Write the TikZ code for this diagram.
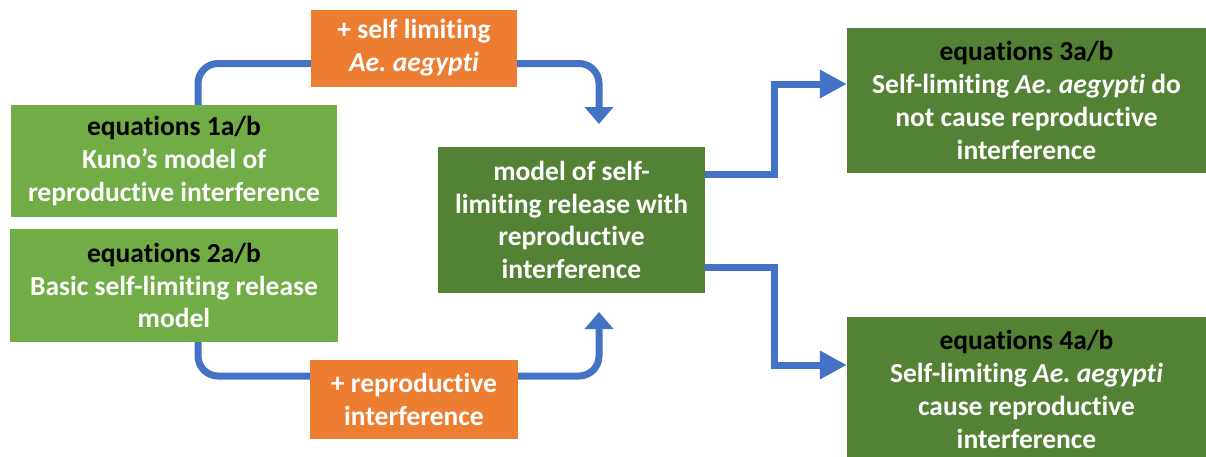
\documentclass[tikz,border=0pt]{standalone}
\usepackage{fontspec}
\setmainfont[Ligatures=NoCommon]{Carlito}
\usetikzlibrary{arrows.meta}
\definecolor{accOrange}{HTML}{ED7D31}
\definecolor{leafGreen}{HTML}{70AD47}
\definecolor{deepGreen}{HTML}{548235}
\definecolor{flowBlue}{HTML}{4472C4}
\frenchspacing
\begin{document}
\begin{tikzpicture}[x=1pt,y=-1pt,
  box/.style={rectangle, inner sep=0pt, align=center, text=white,
    font=\fontsize{27.5}{32.8}\selectfont\bfseries},
  stepbox/.style={box, fill=accOrange},
  srcbox/.style={box, fill=leafGreen},
  resbox/.style={box, fill=deepGreen},
  flow/.style={draw=flowBlue, line width=7pt, rounded corners=20pt,
    -{Triangle[width=28pt,length=17pt]}},
  flowsharp/.style={draw=flowBlue, line width=7pt,
    -{Triangle[width=27pt,length=27pt]}},
  link/.style={draw=flowBlue, line width=7pt, rounded corners=20pt}]
\clip (0,0) rectangle (1206,456);
\useasboundingbox (0,0) rectangle (1206,456);

% source models
\node[srcbox, minimum width=326pt, minimum height=112pt] (eq1) at (174,161)
  {\textcolor{black}{equations 1a/b}\\Kuno’s model of\\reproductive interference};
\node[srcbox, minimum width=328pt, minimum height=113pt] (eq2) at (174,285.5)
  {\textcolor{black}{equations 2a/b}\\Basic self-limiting release\\model};

% added ingredients
\node[stepbox, minimum width=206pt, minimum height=77pt] (addsl) at (414,48)
  {+ self limiting\\\textit{Ae. aegypti}};
\node[stepbox, minimum width=208pt, minimum height=79pt] (addri) at (414,399.5)
  {+ reproductive\\interference};

% combined model
\node[resbox, minimum width=267pt, minimum height=146pt] (combo) at (571.5,220)
  {model of self-\\limiting release with\\reproductive\\interference};

% outcomes
\node[resbox, minimum width=359pt, minimum height=145pt] (eq3) at (1026.5,100.5)
  {\textcolor{black}{equations 3a/b}\\Self-limiting \textit{Ae. aegypti} do\\not cause reproductive\\interference};
\node[resbox, minimum width=359pt, minimum height=145pt] (eq4) at (1026.5,389.5)
  {\textcolor{black}{equations 4a/b}\\Self-limiting \textit{Ae. aegypti}\\cause reproductive\\interference};

% routing helpers
\coordinate (lx) at (198,0);
\coordinate (ty) at (0,63.5);
\coordinate (by) at (0,376);
\coordinate (downtip) at (599,124);
\coordinate (uptip) at (599,312);
\coordinate (jx) at (774,0);
\coordinate (ya) at (0,174);
\coordinate (yb) at (0,84);
\coordinate (yc) at (0,267);
\coordinate (yd) at (0,365);

% left loops
\draw[link] (eq1.north -| lx) |- (addsl.west |- ty);
\draw[flow] (addsl.east |- ty) -| (downtip);
\draw[link] (eq2.south -| lx) |- (addri.west |- by);
\draw[flow] (addri.east |- by) -| (uptip);

% branches to outcomes
\draw[flowsharp] (combo.east |- ya) -| (jx |- yb) -- (eq3.west |- yb);
\draw[flowsharp] (combo.east |- yc) -| (jx |- yd) -- (eq4.west |- yd);
\end{tikzpicture}
\end{document}
